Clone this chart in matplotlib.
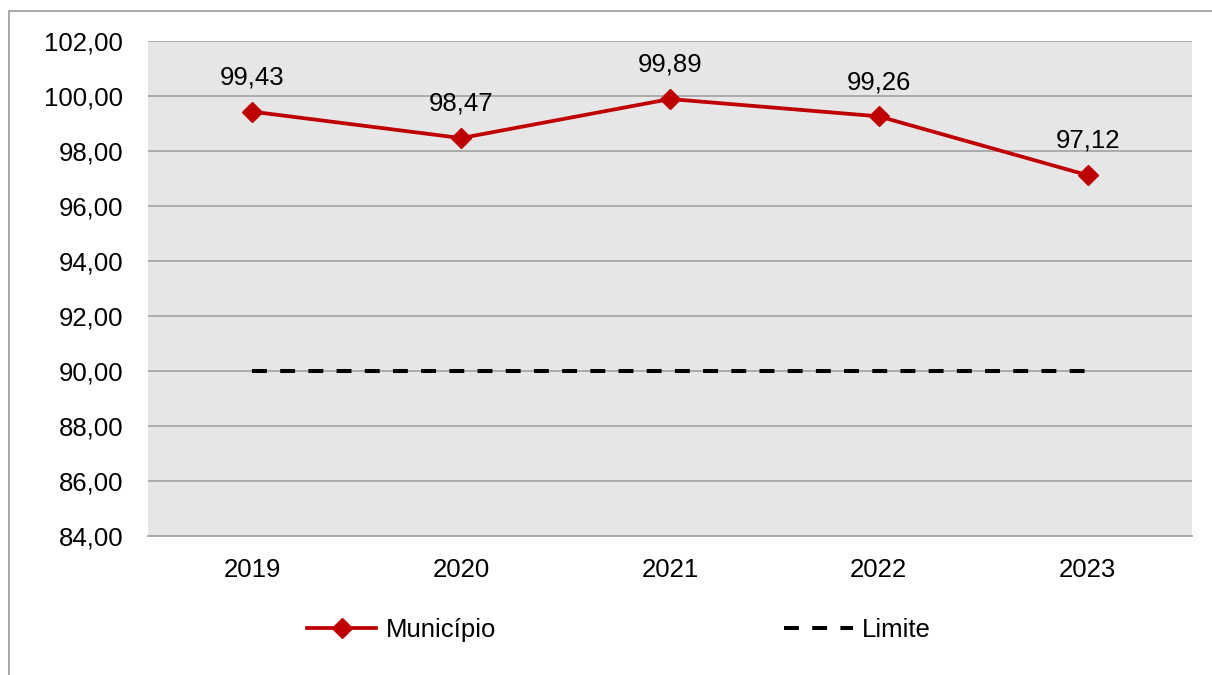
import matplotlib
matplotlib.use("Agg")
import matplotlib.pyplot as plt
from matplotlib.ticker import FuncFormatter, MultipleLocator
from matplotlib.patches import Rectangle

# ── dados ─────────────────────────────────────────────
ANOS = ["2019", "2020", "2021", "2022", "2023"]
MUNICIPIO = [99.43, 98.47, 99.89, 99.26, 97.12]
LIMITE = [90.0, 90.0, 90.0, 90.0, 90.0]

VERMELHO = "#C00000"
CINZA_GRADE = "#A6A6A6"
FUNDO = "#E6E6E6"
FONTE = 18.5

plt.rcParams["font.family"] = ["Liberation Sans", "DejaVu Sans"]


def virgula(v, _=None):
    return f"{v:.2f}".replace(".", ",")


fig = plt.figure(figsize=(12.12, 6.75), dpi=100)
ax = fig.add_axes([148 / 1212, 1 - 536 / 675, 1044 / 1212, 495 / 675])
ax.set_facecolor(FUNDO)

x = list(range(len(ANOS)))

ax.plot(x, MUNICIPIO, color=VERMELHO, lw=2.7, marker="D", markersize=10.5,
        label="Município", zorder=3)
ax.plot(x, LIMITE, color="black", lw=2.9, dashes=(3.7, 3.3),
        label="Limite", zorder=3)

for xi, v in zip(x, MUNICIPIO):
    ax.annotate(virgula(v), (xi, v), xytext=(0, 16), textcoords="offset points",
                ha="center", va="bottom", fontsize=FONTE, color="black")

ax.set_xlim(-0.5, len(ANOS) - 0.5)
ax.set_ylim(84, 102)
ax.yaxis.set_major_locator(MultipleLocator(2))
ax.yaxis.set_major_formatter(FuncFormatter(virgula))
ax.set_xticks(x)
ax.set_xticklabels(ANOS)

ax.grid(axis="y", color=CINZA_GRADE, lw=1.3)
ax.set_axisbelow(True)
for lado in ["top", "right", "left"]:
    ax.spines[lado].set_visible(False)
ax.spines["bottom"].set_color(CINZA_GRADE)
ax.spines["bottom"].set_linewidth(1.3)

ax.tick_params(axis="y", length=0, pad=18, labelsize=FONTE)
ax.tick_params(axis="x", length=0, pad=16, labelsize=FONTE)

ax.legend(loc="center", bbox_to_anchor=(619 / 1212, 1 - 630 / 675),
          bbox_transform=fig.transFigure, ncol=2, frameon=False,
          fontsize=FONTE, handlelength=2.7, handletextpad=0.35,
          columnspacing=11.2)

# moldura da área do gráfico (cortada à direita e embaixo)
fig.patches.append(Rectangle((9 / 1212, -0.1), 1.2, 1 - 11 / 675 + 0.1,
                             transform=fig.transFigure, fill=False,
                             edgecolor="#A0A0A0", lw=1.3))

plt.savefig("out.png", dpi=100)
plt.close()
